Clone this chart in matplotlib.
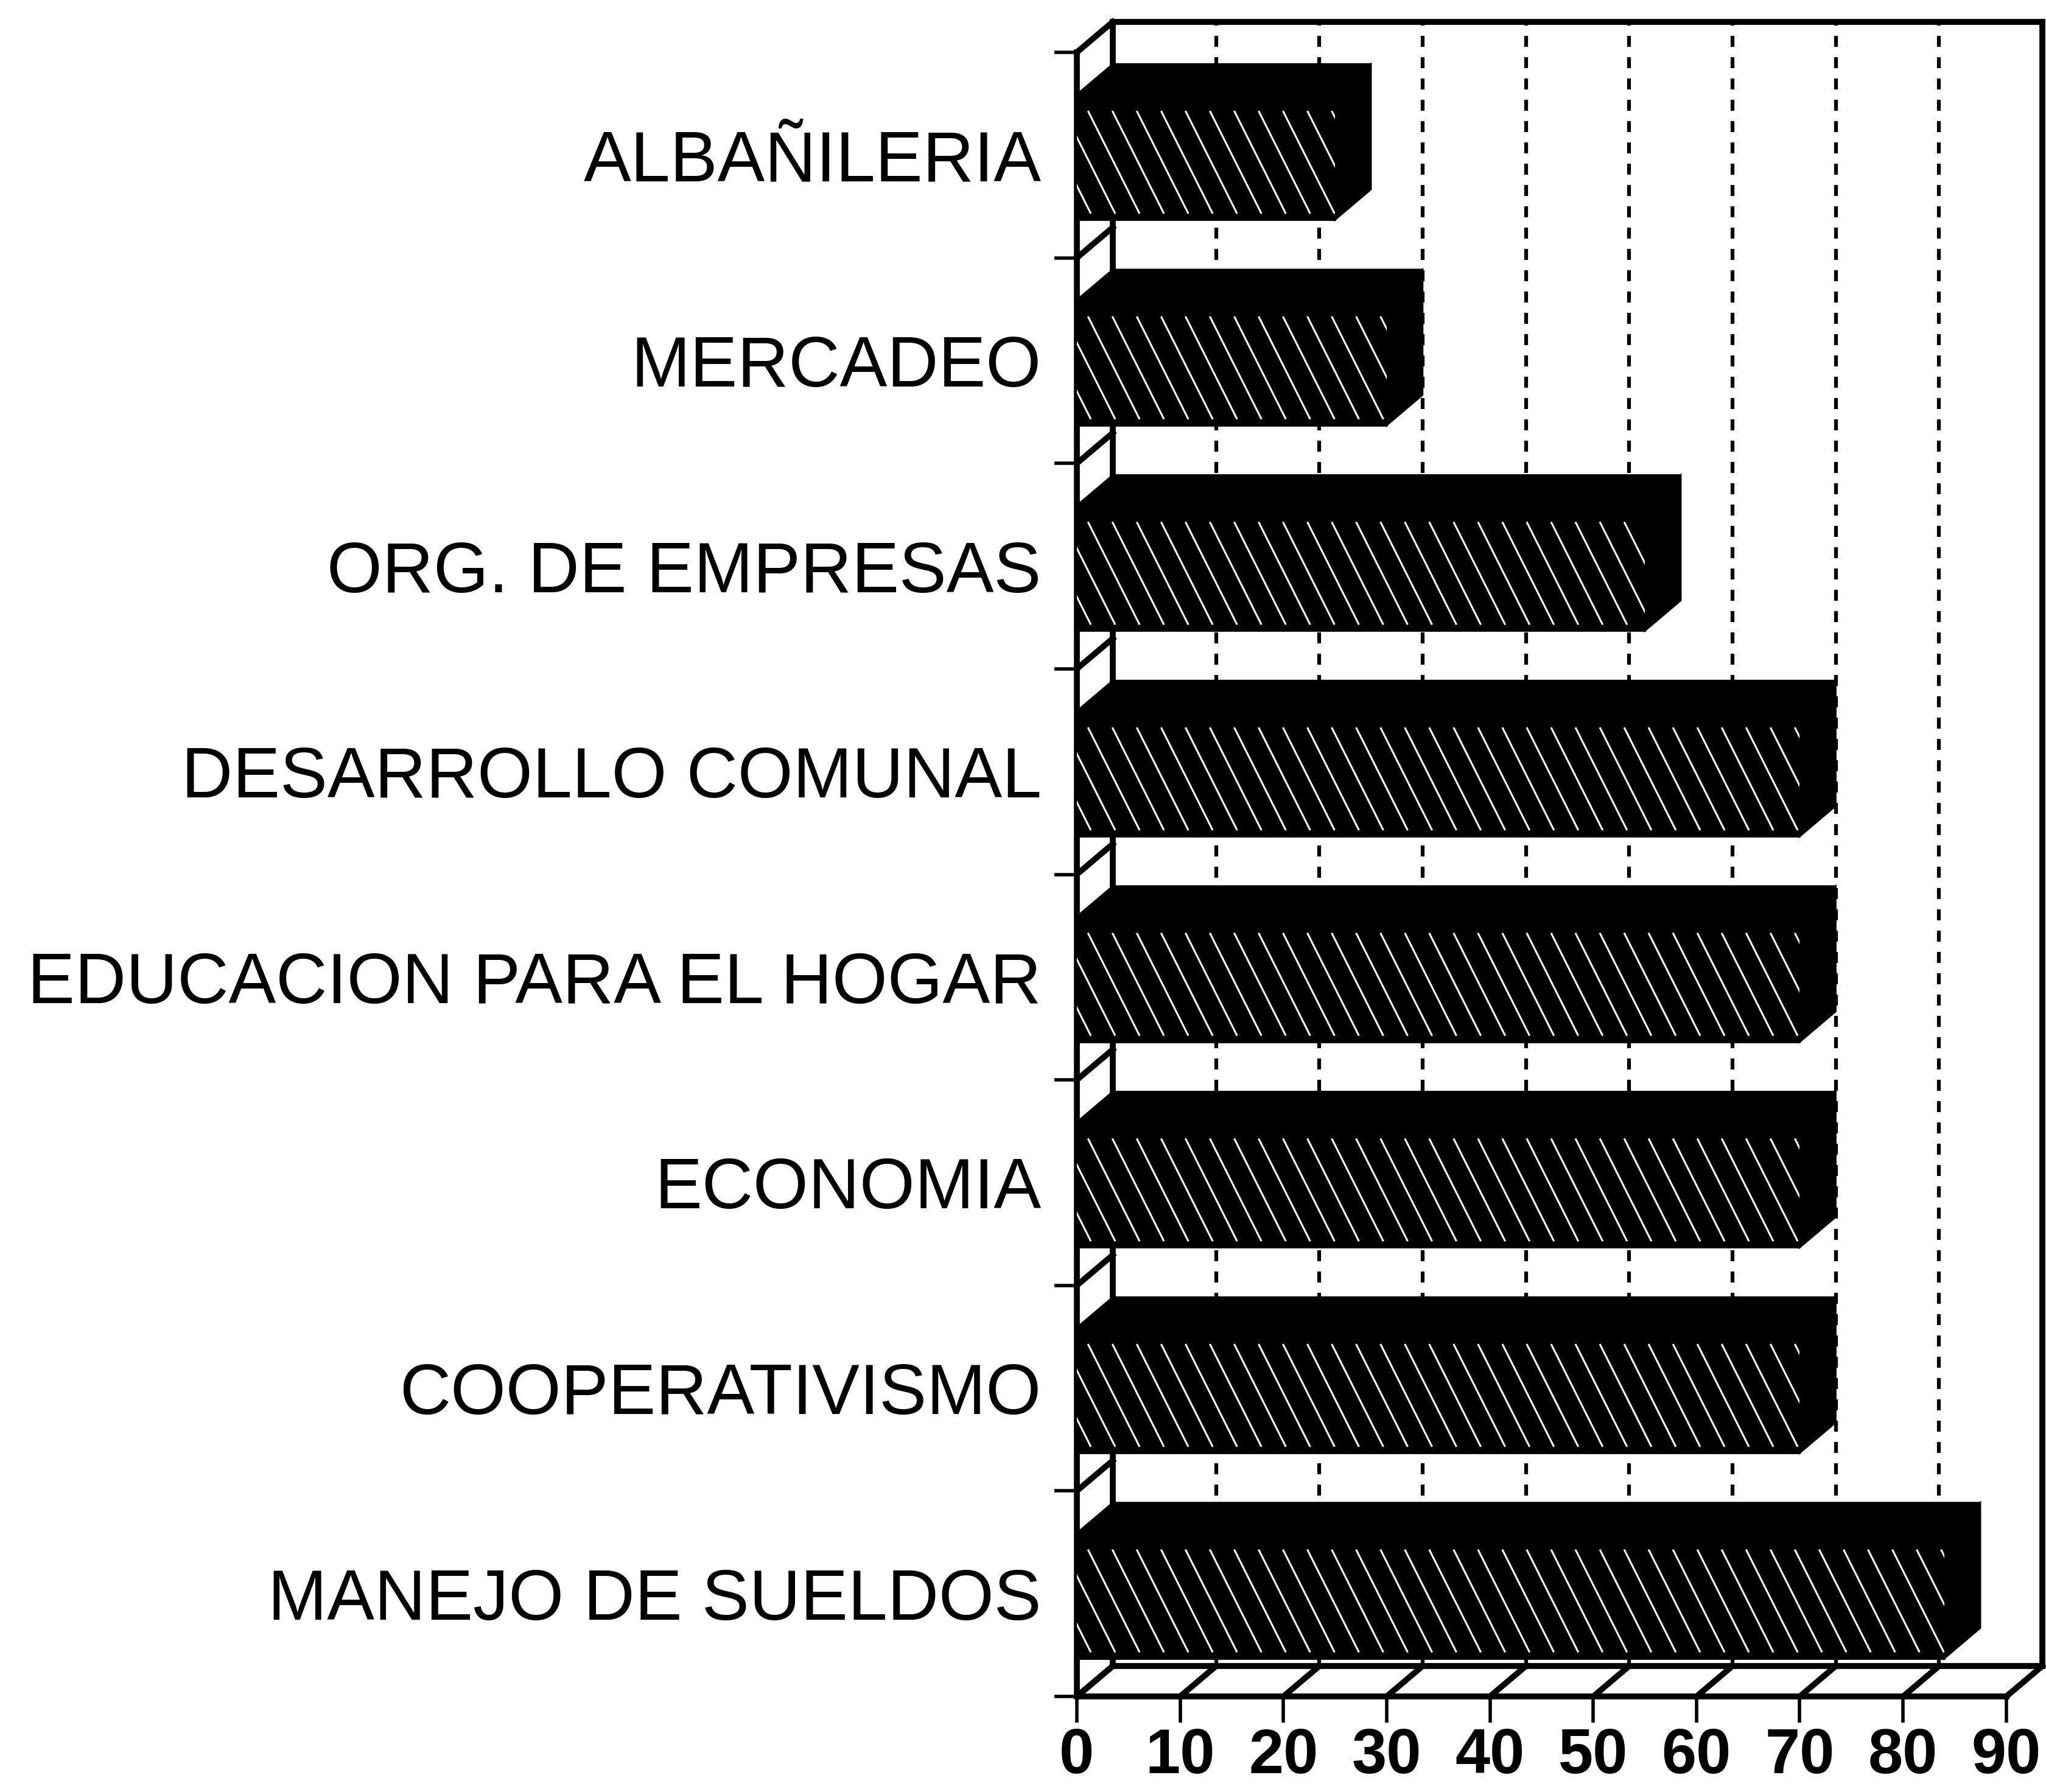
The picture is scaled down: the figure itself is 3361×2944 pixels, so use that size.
import matplotlib
matplotlib.use('Agg')
import matplotlib.pyplot as plt
from matplotlib.patches import Polygon
from matplotlib.collections import LineCollection
import numpy as np

plt.rcParams['font.family'] = ['Liberation Sans', 'DejaVu Sans']

# Data (top to bottom as in the chart)
categories = ['ALBAÑILERIA', 'MERCADEO', 'ORG. DE EMPRESAS', 'DESARROLLO COMUNAL',
              'EDUCACION PARA EL HOGAR', 'ECONOMIA', 'COOPERATIVISMO', 'MANEJO DE SUELDOS']
values = [25, 30, 55, 70, 70, 70, 70, 84]
x_ticks = [0, 10, 20, 30, 40, 50, 60, 70, 80, 90]

n = len(categories)
slots = np.arange(n)[::-1]      # first category in the top slot
dx, dy = 3.48, 0.148            # 3D depth offset (data units)
bar_c, bar_h = 0.49, 0.61
xmax = x_ticks[-1]

fig = plt.figure(figsize=(33.61, 29.44), dpi=100)
ax = fig.add_axes([0.5263, 0.0533, 0.4543, 0.9175])
ax.set_xlim(0, xmax)
ax.set_ylim(0, n)
for s in ax.spines.values():
    s.set_visible(False)

# --- back wall grid ---
for t in x_ticks[1:-1]:
    ax.plot([t + dx, t + dx], [dy, n + dy], color='black', lw=4.5,
            ls=(0, (2.9, 2.7)), clip_on=False, zorder=1)

# --- frame of the 3D box ---
fr = dict(color='black', lw=7, clip_on=False, zorder=2, solid_capstyle='projecting')
ax.plot([dx, xmax + dx], [n + dy, n + dy], **fr)
ax.plot([dx, dx], [dy, n + dy], **fr)
ax.plot([xmax + dx, xmax + dx], [dy, n + dy], **fr)
ax.plot([dx, xmax + dx], [dy, dy], **fr)
ax.plot([0, xmax], [0, 0], **fr)
ax.plot([0, 0], [0, n], **fr)
for t in x_ticks:
    ax.plot([t, t + dx], [0, dy], **fr)
for b in range(n + 1):
    ax.plot([0, dx], [b, b + dy], **fr)

# --- bars ---
yc = slots + bar_c
bars = ax.barh(yc, values, height=bar_h, color='black', edgecolor='black',
               linewidth=2, zorder=3)
for bar, y, v in zip(bars, yc, values):
    top, bot = y + bar_h / 2, y - bar_h / 2
    ax.add_patch(Polygon([(0, top), (dx, top + dy), (v + dx, top + dy), (v, top)],
                         closed=True, fc='black', ec='black', lw=2, clip_on=False, zorder=4))
    ax.add_patch(Polygon([(v, bot), (v, top), (v + dx, top + dy), (v + dx, bot + dy)],
                         closed=True, fc='black', ec='black', lw=2, clip_on=False, zorder=4))
    # steep white hatch lines on the front face
    starts = np.arange(-6, v + 2.4, 2.36)
    segs = [[(s0, top - 0.08), (s0 + 5.0, bot + 0.03)] for s0 in starts]
    lc = LineCollection(segs, colors='white', linewidths=2.2, zorder=5)
    ax.add_collection(lc)
    lc.set_clip_path(bar)

# --- ticks and labels ---
ax.set_yticks(slots + 0.5)
ax.set_yticklabels(categories, fontsize=84)
ax.tick_params(axis='y', which='major', length=0, pad=42)
ax.set_yticks(np.arange(n + 1), minor=True)
ax.tick_params(axis='y', which='minor', length=27, width=4, direction='out', color='black')

ax.set_xticks(x_ticks)
ax.set_xticklabels([str(t) for t in x_ticks], fontsize=74, fontweight='bold')
ax.tick_params(axis='x', length=31, width=4, direction='out', pad=6)

fig.savefig('out.png', dpi=100, facecolor='white')
